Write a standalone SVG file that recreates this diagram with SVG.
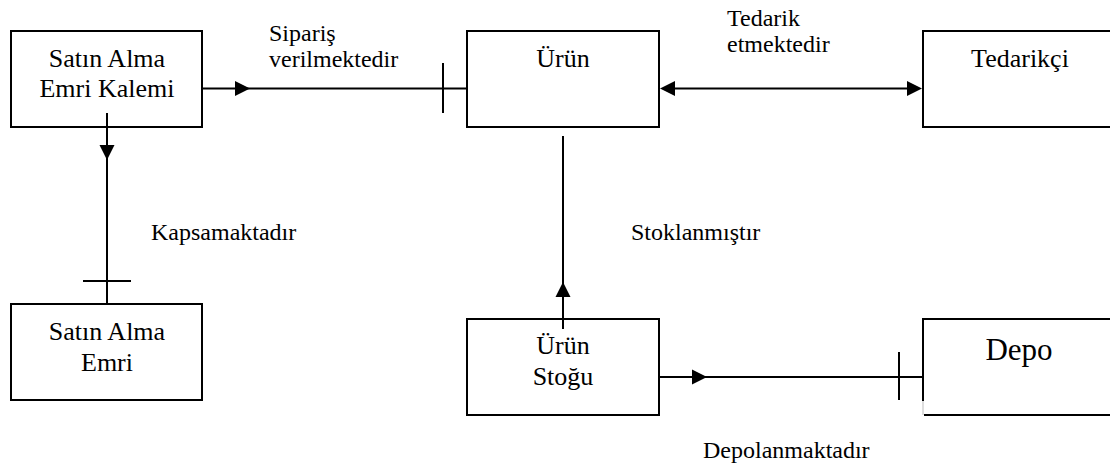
<svg xmlns="http://www.w3.org/2000/svg" xmlns:xlink="http://www.w3.org/1999/xlink" width="1110" height="466" viewBox="0 0 1110 466">
  <style>
    .box { fill: #fff; stroke: #000; stroke-width: 2; }
    .edge { fill: none; stroke: #000; stroke-width: 2; }
    .lbl { font-family: 'Liberation Serif', 'Times New Roman', 'DejaVu Serif', serif; font-size: 24px; fill: #000; }
    .name { font-family: 'Liberation Serif', 'Times New Roman', 'DejaVu Serif', serif; font-size: 26px; fill: #000; text-anchor: middle; }
    .head { fill: #000; }
  </style>
  <defs>
    <!-- filled arrowhead, tip at the origin, pointing along +x -->
    <path id="ah" class="head" d="M0,0 L-15,-7.5 L-15,7.5 Z"/>
  </defs>

  <rect width="1110" height="466" fill="#fff"/>

  <!-- relationships -->
  <g id="connectors">
    <!-- Sipariş verilmektedir -->
    <line class="edge" x1="202" y1="88.5" x2="467" y2="88.5"/>
    <use xlink:href="#ah" transform="translate(250,88.5)"/>
    <line class="edge" x1="443" y1="63" x2="443" y2="113"/>

    <!-- Tedarik etmektedir -->
    <line class="edge" x1="665" y1="88.5" x2="917" y2="88.5"/>
    <use xlink:href="#ah" transform="translate(660,88.5) rotate(180)"/>
    <use xlink:href="#ah" transform="translate(922,88.5)"/>

    <!-- Kapsamaktadır -->
    <line class="edge" x1="107" y1="113" x2="107" y2="304"/>
    <use xlink:href="#ah" transform="translate(107,160) rotate(90)"/>
    <line class="edge" x1="83" y1="281" x2="131" y2="281"/>

    <!-- Stoklanmıştır -->
    <line class="edge" x1="563" y1="136" x2="563" y2="329"/>
    <use xlink:href="#ah" transform="translate(563,282) rotate(-90)"/>

    <!-- Depolanmaktadır -->
    <line class="edge" x1="659" y1="377" x2="923" y2="377"/>
    <use xlink:href="#ah" transform="translate(707,377)"/>
    <line class="edge" x1="899" y1="352" x2="899" y2="400"/>

    <text class="lbl" x="269" y="41">Sipariş</text>
    <text class="lbl" x="269" y="67">verilmektedir</text>
    <text class="lbl" x="727" y="26">Tedarik</text>
    <text class="lbl" x="727" y="52">etmektedir</text>
    <text class="lbl" x="151" y="240">Kapsamaktadır</text>
    <text class="lbl" x="631" y="240">Stoklanmıştır</text>
    <text class="lbl" x="703" y="458">Depolanmaktadır</text>
  </g>

  <!-- entities -->
  <g id="satin-alma-emri-kalemi">
    <rect class="box" x="11" y="31" width="191" height="96"/>
    <line class="edge" x1="107" y1="113" x2="107" y2="127"/>
    <text class="name" x="107" y="67">Satın Alma</text>
    <text class="name" x="107" y="97">Emri Kalemi</text>
  </g>

  <g id="urun">
    <rect class="box" x="467" y="31" width="192" height="96"/>
    <text class="name" x="563" y="67">Ürün</text>
  </g>

  <g id="tedarikci">
    <rect class="box" x="923" y="31" width="200" height="96"/>
    <text class="name" x="1020" y="67">Tedarikçi</text>
  </g>

  <g id="satin-alma-emri">
    <rect class="box" x="11" y="304" width="191" height="96"/>
    <text class="name" x="107" y="340">Satın Alma</text>
    <text class="name" x="107" y="371">Emri</text>
  </g>

  <g id="urun-stogu">
    <rect class="box" x="467" y="319" width="192" height="96"/>
    <line class="edge" x1="563" y1="319" x2="563" y2="329"/>
    <text class="name" x="563" y="354">Ürün</text>
    <text class="name" x="563" y="385">Stoğu</text>
  </g>

  <g id="depo">
    <rect x="923" y="319" width="200" height="96" fill="#fff"/>
    <path class="edge" d="M1112,319 H923 V401"/>
    <path d="M923,401 V415" fill="none" stroke="#bbb" stroke-width="1"/>
    <path class="edge" d="M924,415 H1112"/>
    <text class="name" x="1019" y="360" style="font-size:31px">Depo</text>
  </g>
</svg>
